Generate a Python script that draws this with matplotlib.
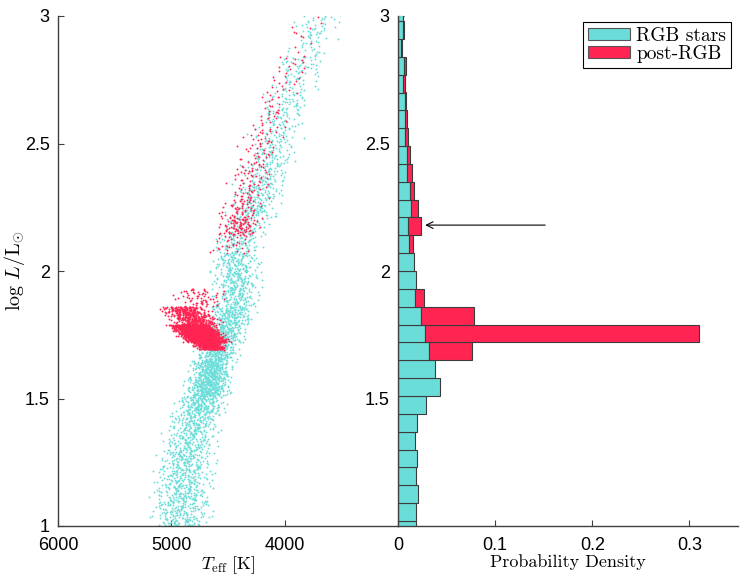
import numpy as np
import matplotlib
matplotlib.use("Agg")
import matplotlib.pyplot as plt
from matplotlib.patches import Patch

plt.rcParams["font.family"] = ["Liberation Sans", "DejaVu Sans"]
plt.rcParams["mathtext.fontset"] = "cm"

# ---------------- data ----------------
# histogram bins in log L/Lsun (bottom to top)
bin_start = 0.95
bin_width = 0.07
n_bins = 30

# probability density per bin
rgb_density = [0.0190, 0.0182, 0.0203, 0.0185, 0.0200, 0.0174, 0.0199, 0.0287,
               0.0428, 0.0386, 0.0319, 0.0278, 0.0233, 0.0172, 0.0182, 0.0165,
               0.0117, 0.0099, 0.0130, 0.0120, 0.0093, 0.0093, 0.0072, 0.0068,
               0.0068, 0.0050, 0.0060, 0.0035, 0.0050, 0.0048]
post_density = [0, 0, 0, 0, 0, 0, 0, 0, 0, 0,
                0.0446, 0.2820, 0.0552, 0.0096, 0, 0, 0.0041, 0.0134,
                0.0075, 0.0048, 0.0048, 0.0034, 0.0035, 0.0024, 0.0017,
                0.0020, 0.0020, 0.0005, 0.0010, 0.0005]

# estimated total number of stars in the HR diagram
n_stars = 7000

# Teff ridge (K) and spread (K) of each population per luminosity bin
rgb_teff = [4920, 4915, 4905, 4890, 4870, 4835, 4800, 4740, 4680, 4650,
            4600, 4530, 4470, 4430, 4430, 4430, 4410, 4340, 4275, 4225,
            4165, 4120, 4085, 4045, 3980, 3915, 3860, 3790, 3730, 3690]
rgb_sigma = [120, 120, 115, 115, 110, 105, 100, 95, 85, 80,
             80, 80, 85, 90, 95, 95, 95, 95, 95, 95,
             95, 95, 95, 95, 95, 95, 95, 90, 90, 90]
post_teff = [np.nan] * 10 + [4620, 4755, 4835, 4745, np.nan, np.nan, 4480, 4405,
                             4390, 4320, 4290, 4245, 4200, 4130, 4085, 4015,
                             3950, 3880, 3820, 3775]
post_sigma = [np.nan] * 10 + [55, 80, 90, 100, np.nan, np.nan, 90, 80,
                              90, 80, 80, 80, 80, 80, 80, 80, 80, 80, 80, 80]
post_tilt = [0] * 10 + [2300, 2300, 2300, 1000, 0, 0, -800, -800,
                        -800, -800, -800, -800, -800, -800, -800, -800,
                        -800, -800, -800, -800]
# lower occupied fraction of each bin for the post-RGB stars
post_fill_lo = [0.0] * 10 + [0.6] + [0.0] * 19

arrow_logL = 2.18
arrow_from = 0.1515
arrow_to = 0.028

labels = ["RGB stars", "post-RGB"]

CYAN = "#6BDDD9"
RED = "#FF2452"
EDGE = "#3C3C3C"
AXC = "#404040"
SERIF = ["cmr10", "DejaVu Serif"]

edges = bin_start + bin_width * np.arange(n_bins + 1)
centers = edges[:-1] + bin_width / 2


# deterministic low-discrepancy placement of the stars inside each bin
def vdc(idx, base):
    idx = np.asarray(idx, dtype=np.int64).copy()
    f = np.ones(idx.shape)
    r = np.zeros(idx.shape)
    while np.any(idx > 0):
        f = f / base
        r = r + f * (idx % base)
        idx = idx // base
    return r


def build_cloud(density, teff, sigma, tilt, fill_lo, offset):
    L_all, T_all = [], []
    start = offset
    for i in range(n_bins):
        n = int(round(density[i] * n_stars))
        if n == 0 or np.isnan(teff[i]):
            continue
        k = np.arange(start, start + n) + 1
        start += n
        uL = fill_lo[i] + (1 - fill_lo[i]) * vdc(k, 2)
        z = (vdc(k, 3) + vdc(k, 5) + vdc(k, 7) - 1.5) * 2.0
        L = edges[i] + bin_width * uL
        T = teff[i] + sigma[i] * z + tilt[i] * (L - centers[i])
        L_all.append(L)
        T_all.append(T)
    return np.concatenate(L_all), np.concatenate(T_all)


rgb_L, rgb_T = build_cloud(rgb_density, rgb_teff, rgb_sigma, [0] * n_bins,
                           [0.0] * n_bins, 0)
post_L, post_T = build_cloud(post_density, post_teff, post_sigma, post_tilt,
                             post_fill_lo, 50000)

# ---------------- figure ----------------
fig = plt.figure(figsize=(7.49, 5.75), dpi=100)
W, H = 749.0, 575.0
ax1 = fig.add_axes([58 / W, 49 / H, 340 / W, 510 / H])
ax2 = fig.add_axes([398 / W, 49 / H, 340 / W, 510 / H])

for ax in (ax1, ax2):
    for s in ("top", "right"):
        ax.spines[s].set_visible(False)
    for s in ("left", "bottom"):
        ax.spines[s].set_color(AXC)
        ax.spines[s].set_linewidth(1.0)
    ax.tick_params(direction="in", length=4, width=0.8, color=AXC,
                   labelsize=13)
    ax.tick_params(axis="x", pad=8)
    ax.tick_params(axis="y", pad=6)

# left: HR diagram
ax1.scatter(rgb_T, rgb_L, s=1.8, c=CYAN, marker="o", linewidths=0, zorder=2)
ax1.scatter(post_T, post_L, s=1.8, c=RED, marker="o", linewidths=0, zorder=3)
ax1.set_xlim(6000, 3000)
ax1.set_ylim(1, 3)
ax1.set_xticks([6000, 5000, 4000])
ax1.set_yticks([1, 1.5, 2, 2.5, 3])
ax1.set_yticklabels(["1", "1.5", "2", "2.5", "3"])
ax1.set_xlabel(r"$T_{\rm eff}\ [\mathrm{K}]$", fontsize=13, labelpad=0)
ax1.set_ylabel(r"$\log\,L/\mathrm{L}_{\odot}$", fontsize=14.5)
ax1.yaxis.set_label_coords(-31 / 340, 0.5)

# right: stacked horizontal histogram
rgb_arr = np.array(rgb_density)
post_arr = np.array(post_density)
ax2.barh(centers, rgb_arr, height=bin_width, color=CYAN, edgecolor=EDGE,
         linewidth=0.8, label=labels[0], zorder=2)
m = post_arr > 0
ax2.barh(centers[m], post_arr[m], left=rgb_arr[m], height=bin_width, color=RED,
         edgecolor=EDGE, linewidth=0.8, label=labels[1], zorder=2)
ax2.set_xlim(0, 0.35)
ax2.set_ylim(1, 3)
ax2.set_xticks([0, 0.1, 0.2, 0.3])
ax2.set_xticklabels(["0", "0.1", "0.2", "0.3"])
ax2.set_yticks([1.5, 2, 2.5, 3])
ax2.set_yticklabels(["1.5", "2", "2.5", "3"])
ax2.set_xlabel("Probability Density", fontsize=13, family=SERIF, labelpad=0)

ax2.annotate("", xy=(arrow_to, arrow_logL), xytext=(arrow_from, arrow_logL),
             arrowprops=dict(arrowstyle="->", color="k", lw=0.8,
                             mutation_scale=12, shrinkA=0, shrinkB=0))

handles = [Patch(facecolor=CYAN, edgecolor="#555555", linewidth=0.8),
           Patch(facecolor=RED, edgecolor="#555555", linewidth=0.8)]
leg = ax2.legend(handles, labels, loc="upper right",
                 bbox_to_anchor=(1 - 7 / 340, 1 - 6 / 510), borderaxespad=0,
                 prop={"family": SERIF, "size": 14}, fancybox=False,
                 framealpha=1, edgecolor="k",
                 handlelength=2.2, handleheight=0.6, handletextpad=0.3,
                 borderpad=0.25, labelspacing=0.0)
leg.get_frame().set_linewidth(0.8)

fig.savefig("out.png", dpi=100)
